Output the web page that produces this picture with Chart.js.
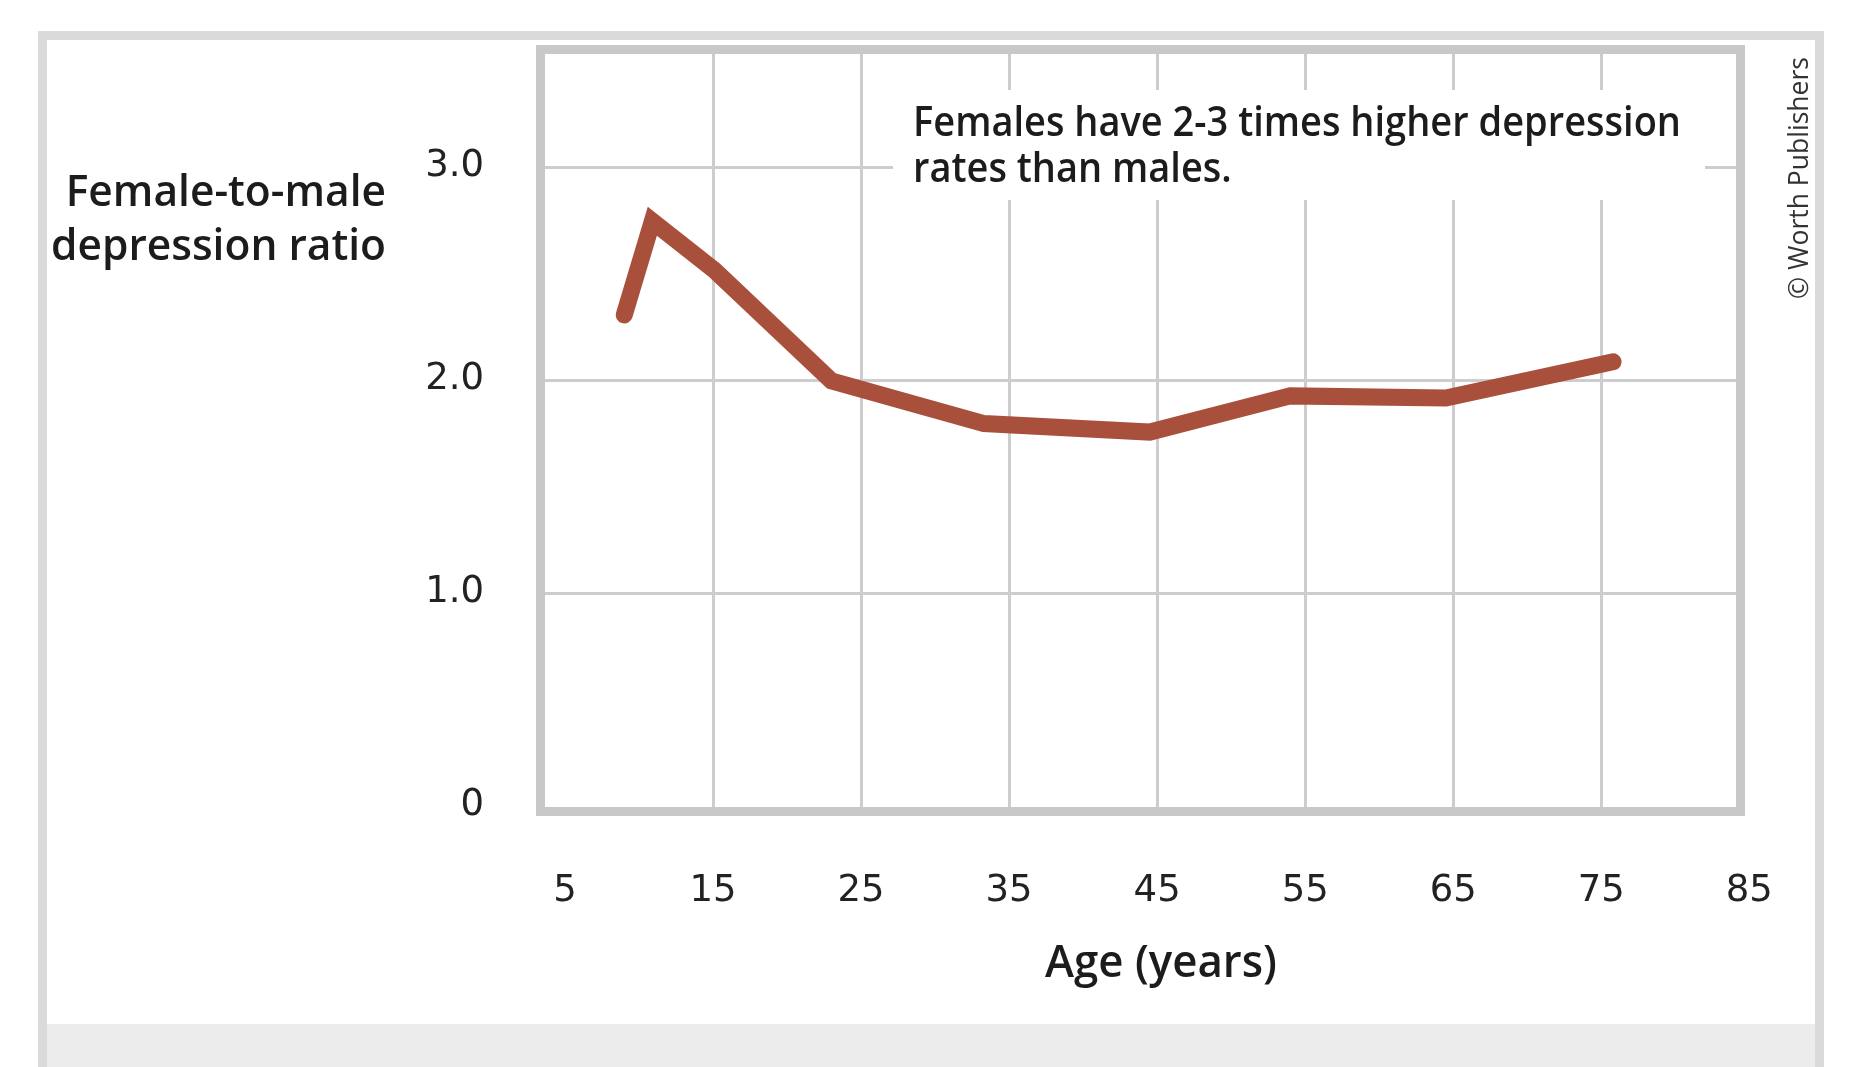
<!DOCTYPE html>
<html>
<head>
<meta charset="utf-8">
<script src="https://cdn.jsdelivr.net/npm/chart.js@4.4.0/dist/chart.umd.min.js"></script>
<style>
  html, body { margin: 0; padding: 0; background: #fff; }
  #chart { display: block; }
</style>
</head>
<body>
<canvas id="chart" width="1854" height="1067"></canvas>
<script>
// Donnees
const ages = [9, 10.9, 15.1, 23, 33.3, 44.5, 54, 64.5, 75.8];
const ratios = [2.31, 2.75, 2.52, 2.0, 1.8, 1.76, 1.93, 1.92, 2.09];
const xTicks = [5, 15, 25, 35, 45, 55, 65, 75, 85];
const yTicks = [0, 1, 2, 3];

const yTitleLines = ['Female-to-male', 'depression ratio'];
const xTitle = 'Age (years)';
const noteLines = ['Females have 2-3 times higher depression', 'rates than males.'];
const credit = '\u00A9 Worth Publishers';

const lineColor = '#a8503b';
const gridColor = '#cdcdcd';
const titleFont = '"Open Sans", "Noto Sans", sans-serif';

// Texte un peu condense : on mesure puis on etire en largeur
function drawBlock(ctx, lines, x, baselines, size, weight, targetWidth, align) {
  ctx.font = `${weight} ${size}px ${titleFont}`;
  const longest = Math.max(...lines.map(l => ctx.measureText(l).width));
  const sx = targetWidth / longest;
  lines.forEach((line, i) => {
    ctx.save();
    ctx.translate(x, baselines[i]);
    ctx.scale(sx, 1);
    ctx.textAlign = align;
    ctx.textBaseline = 'alphabetic';
    ctx.fillText(line, 0, 0);
    ctx.restore();
  });
}

const decorPlugin = {
  id: 'decor',
  beforeDraw(chart) {
    const ctx = chart.ctx;
    ctx.save();
    // cadre exterieur
    ctx.fillStyle = '#ffffff';
    ctx.fillRect(0, 0, chart.width, chart.height);
    ctx.fillStyle = '#dadada';
    ctx.fillRect(38, 31, 1786, chart.height - 31);
    ctx.fillStyle = '#ffffff';
    ctx.fillRect(47, 40, 1768, 984);
    ctx.fillStyle = '#ececec';
    ctx.fillRect(47, 1024, 1768, chart.height - 1024);
    ctx.restore();
  },
  beforeDatasetsDraw(chart) {
    const ctx = chart.ctx;
    ctx.save();
    // fond blanc derriere la note
    ctx.fillStyle = '#ffffff';
    ctx.fillRect(893, 90, 812, 110);
    ctx.fillStyle = '#1c1c1c';
    drawBlock(ctx, noteLines, 913, [136, 182], 41, 600, 768, 'left');
    ctx.restore();
  },
  afterDraw(chart) {
    const ctx = chart.ctx;
    const a = chart.chartArea;
    ctx.save();
    // bordure du graphique
    ctx.strokeStyle = '#c8c8c8';
    ctx.lineWidth = 9;
    ctx.strokeRect(a.left - 4.5, a.top - 4.5, a.right - a.left + 9, a.bottom - a.top + 9);

    ctx.fillStyle = '#1c1c1c';
    drawBlock(ctx, yTitleLines, 386, [206, 260], 43, 600, 335, 'right');
    drawBlock(ctx, [xTitle], 1161, [977], 45, 600, 232, 'center');

    // mention de copyright, verticale
    ctx.fillStyle = '#333333';
    ctx.font = `400 28px ${titleFont}`;
    const w = ctx.measureText(credit).width;
    ctx.translate(1800, 178);
    ctx.rotate(-Math.PI / 2);
    ctx.scale(242 / w, 1);
    ctx.textAlign = 'center';
    ctx.textBaseline = 'middle';
    ctx.fillText(credit, 0, 0);
    ctx.restore();
  }
};

new Chart(document.getElementById('chart'), {
  type: 'line',
  data: {
    datasets: [{
      label: 'Female-to-male depression ratio',
      data: ages.map((age, i) => ({ x: age, y: ratios[i] })),
      borderColor: lineColor,
      borderWidth: 17,
      borderCapStyle: 'round',
      borderJoinStyle: 'miter',
      pointRadius: 0,
      fill: false,
      tension: 0
    }]
  },
  options: {
    responsive: false,
    animation: false,
    devicePixelRatio: 1,
    layout: { padding: { top: 54, right: 118, left: 0, bottom: 0 } },
    plugins: {
      legend: { display: false },
      tooltip: { enabled: false }
    },
    scales: {
      x: {
        type: 'linear',
        min: 3.65,
        max: 84.1,
        afterBuildTicks: (scale) => { scale.ticks = xTicks.map(v => ({ value: v })); },
        afterFit: (scale) => {
          scale.height = 260;
          scale.paddingLeft = 0;
          scale.paddingRight = 0;
        },
        border: { display: false },
        grid: {
          drawTicks: false,
          lineWidth: 3,
          color: (c) => (c.tick && (c.tick.value === 5 || c.tick.value === 85)) ? 'rgba(0,0,0,0)' : gridColor
        },
        ticks: {
          autoSkip: false,
          maxRotation: 0,
          padding: 62,
          color: '#222222',
          font: { family: '"DejaVu Sans", sans-serif', size: 37 },
          callback: (v) => String(v)
        }
      },
      y: {
        type: 'linear',
        min: 0,
        max: 3.535,
        afterBuildTicks: (scale) => { scale.ticks = yTicks.map(v => ({ value: v })); },
        afterFit: (scale) => {
          scale.width = 545;
          scale.paddingTop = 0;
          scale.paddingBottom = 0;
        },
        border: { display: false },
        grid: {
          drawTicks: false,
          lineWidth: 3,
          color: (c) => (c.tick && c.tick.value === 0) ? 'rgba(0,0,0,0)' : gridColor
        },
        ticks: {
          padding: 61,
          labelOffset: -2,
          color: '#222222',
          font: { family: '"DejaVu Sans", sans-serif', size: 37 },
          callback: (v) => v === 0 ? '0' : v.toFixed(1)
        }
      }
    }
  },
  plugins: [decorPlugin]
});
</script>
</body>
</html>
